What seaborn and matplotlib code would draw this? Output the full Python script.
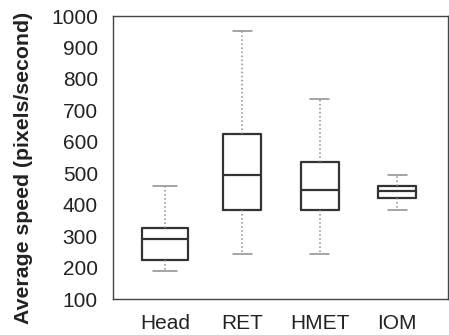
import numpy as np
import pandas as pd
import seaborn as sns
import matplotlib.pyplot as plt

# box statistics: min, q1, median, q3, max
methods = ["Head", "RET", "HMET", "IOM"]
head_speed = [189, 224, 291, 325, 459]
ret_speed = [243, 385, 494, 626, 951]
hmet_speed = [245, 385, 446, 535, 737]
iom_speed = [385, 422, 444, 460, 496]
y_ticks = [100, 200, 300, 400, 500, 600, 700, 800, 900, 1000]

df = pd.DataFrame({
    "method": np.repeat(methods, 5),
    "speed": head_speed + ret_speed + hmet_speed + iom_speed,
})

sns.set_style("white")
plt.rcParams["font.family"] = ["Liberation Sans", "DejaVu Sans"]

fig = plt.figure(figsize=(4.49, 3.35), dpi=100)
ax = fig.add_axes([0.252, 0.107, 0.746, 0.845])

line_col = "#333333"
common = dict(
    x="method", y="speed", order=methods, whis=np.inf, fill=False,
    color=line_col, linewidth=1.6,
    whiskerprops=dict(color="#8c8c8c", linestyle=":", linewidth=1.1),
    capprops=dict(color="#8c8c8c", linewidth=1.1),
    medianprops=dict(color=line_col, linewidth=1.6),
    ax=ax,
)
# Head box is drawn a bit wider than the others
sns.boxplot(data=df[df.method == "Head"], width=0.6, **common)
sns.boxplot(data=df[df.method != "Head"], width=0.49, **common)

ax.set_ylim(100, 1000)
ax.set_xlim(-0.67, 3.66)
ax.set_yticks(y_ticks)
ax.set_xlabel("")
ax.set_ylabel("Average speed (pixels/second)", fontsize=15.3, fontweight="bold",
              color="#222222")
ax.yaxis.set_label_coords(-0.24, 0.465)
ax.tick_params(axis="y", direction="in", length=3, pad=11, labelsize=15,
               colors="#444444", labelcolor="#222222")
ax.tick_params(axis="x", length=0, pad=11, labelsize=15, labelcolor="#222222")
for s in ax.spines.values():
    s.set_color("#444444")
    s.set_linewidth(1.0)

fig.savefig("out.png", dpi=100)
